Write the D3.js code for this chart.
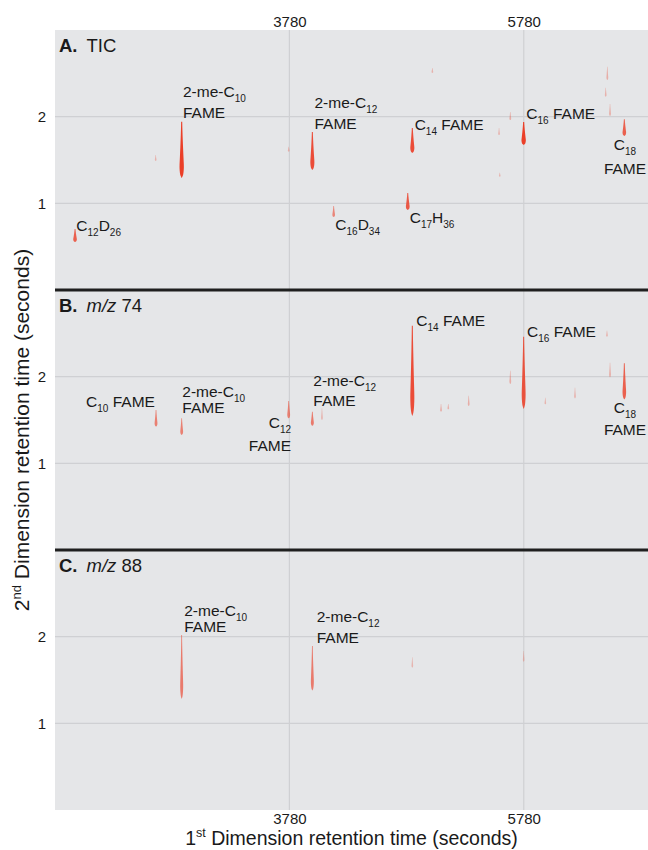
<!DOCTYPE html>
<html><head><meta charset="utf-8">
<script src="https://cdn.jsdelivr.net/npm/d3@7"></script>
<style>
body{margin:0;background:#fff}
text{font-family:"Liberation Sans",Arial,Helvetica,sans-serif;fill:#1a1a1a;white-space:pre}
</style>
</head><body>
<svg id="chart" width="648" height="850"></svg>
<script>
// ---------- data ----------
const xDomain = [1780, 6840];          // 1st dimension retention time (s)
const yDomain = [0, 3];                // 2nd dimension retention time (s)
const xTicks = [3780, 5780];
const yTicks = [1, 2];
const panelLetters = ["A.", "B.", "C."];
const panelChannels = ["TIC", "m/z 74", "m/z 88"];

// peaks: [rt1, rt2 top, rt2 bottom, relative intensity]
const peaksTIC = [
  [1951, 0.704, 0.554, 0.75],
  [2639, 1.558, 1.488, 0.12],
  [2861, 1.942, 1.292, 1.0],
  [3774, 1.653, 1.596, 0.12],
  [3976, 1.823, 1.385, 0.9],
  [4158, 0.969, 0.842, 0.45],
  [5000, 2.561, 2.504, 0.12],
  [4829, 1.869, 1.581, 0.9],
  [4790, 1.119, 0.923, 0.8],
  [5569, 1.869, 1.788, 0.12],
  [5575, 1.353, 1.307, 0.1],
  [5665, 2.054, 1.961, 0.15],
  [5779, 1.938, 1.673, 1.0],
  [6493, 2.576, 2.423, 0.15],
  [6479, 2.334, 2.230, 0.12],
  [6516, 2.146, 2.008, 0.15],
  [6638, 1.969, 1.777, 0.75]
];
const peaksMZ74 = [
  [2642, 1.615, 1.423, 0.5],
  [2861, 1.519, 1.327, 0.5],
  [3774, 1.719, 1.519, 0.5],
  [3976, 1.596, 1.434, 0.55],
  [4058, 1.635, 1.500, 0.12],
  [4829, 2.588, 1.546, 0.9],
  [5074, 1.685, 1.596, 0.15],
  [5136, 1.685, 1.623, 0.12],
  [5310, 1.781, 1.662, 0.15],
  [5665, 2.069, 1.915, 0.15],
  [5779, 2.461, 1.627, 0.85],
  [5964, 1.757, 1.681, 0.1],
  [6217, 1.873, 1.750, 0.12],
  [6490, 2.531, 2.461, 0.12],
  [6516, 2.161, 1.992, 0.15],
  [6638, 2.154, 1.738, 0.75]
];
const peaksMZ88 = [
  [2861, 2.019, 1.281, 0.55],
  [3976, 1.892, 1.377, 0.55],
  [4829, 1.762, 1.642, 0.1],
  [5779, 1.835, 1.711, 0.08]
];

// labels: [text lines, rt1, rt2 of each line baseline, anchor]
const labelsTIC = [
  [["C_{12}D_{26}"], 1962, [0.681], "start"],
  [["2-me-C_{10}", "FAME"], 2872, [2.227, 1.988], "start"],
  [["2-me-C_{12}", "FAME"], 3994, [2.096, 1.854], "start"],
  [["C_{14} FAME"], 4849, [1.846], "start"],
  [["C_{16}D_{34}"], 4172, [0.692], "start"],
  [["C_{17}H_{36}"], 4807, [0.777], "start"],
  [["C_{16} FAME"], 5802, [1.969], "start"],
  [["C_{18}", "FAME"], 6644, [1.615, 1.338], "middle"]
];
const labelsMZ74 = [
  [["C_{10} FAME"], 2045, [1.653], "start"],
  [["2-me-C_{10}", "FAME"], 2866, [1.769, 1.577], "start"],
  [["C_{12}", "FAME"], 3794, [1.411, 1.142], "end"],
  [["2-me-C_{12}", "FAME"], 3984, [1.892, 1.661], "start"],
  [["C_{14} FAME"], 4863, [2.585], "start"],
  [["C_{16} FAME"], 5808, [2.454], "start"],
  [["C_{18}", "FAME"], 6644, [1.584, 1.327], "middle"]
];
const labelsMZ88 = [
  [["2-me-C_{10}", "FAME"], 2883, [2.238, 2.057], "start"],
  [["2-me-C_{12}", "FAME"], 4013, [2.173, 1.930], "start"]
];

const xTitle = "1^{st} Dimension retention time (seconds)";
const yTitle = "2^{nd} Dimension retention time (seconds)";

// ---------- drawing ----------
const panels = [
  {peaks: peaksTIC, labels: labelsTIC},
  {peaks: peaksMZ74, labels: labelsMZ74},
  {peaks: peaksMZ88, labels: labelsMZ88}
];
const PL = 55, PR = 648, PT = 30, PH = 260;
const svg = d3.select("#chart");
const x = d3.scaleLinear().domain(xDomain).range([PL, PR]);
const wScale = d3.scaleLinear().domain([0, 1]).range([1.3, 4.4]);
const oScale = d3.scaleLinear().domain([0, 1]).range([0.22, 1]);
const peakColor = "#eb3f28";
const gridColor = "#cfd0d3";
const FONT = '"Liberation Sans",Arial,sans-serif';

function richText(sel, str, subSize, supSize) {
  const parts = str.split(/([_^]\{[^}]*\})/).filter(s => s.length);
  let shift = 0;
  parts.forEach(s => {
    if (s[0] === "_" && s[1] === "{") {
      sel.append("tspan").attr("font-size", subSize).attr("dy", 5 - shift).text(s.slice(2, -1));
      shift = 5;
    } else if (s[0] === "^" && s[1] === "{") {
      sel.append("tspan").attr("font-size", supSize).attr("dy", -8 - shift).text(s.slice(2, -1));
      shift = -8;
    } else {
      const t = sel.append("tspan").text(s);
      if (shift !== 0) { t.attr("dy", -shift); shift = 0; }
    }
  });
}

function prof(t) {
  const p = 0.78;
  return t <= p ? 0.25 + 0.75 * Math.pow(t / p, 1.3)
                : Math.sqrt(Math.max(0, 1 - Math.pow((t - p) / (1 - p), 2)));
}
const ts = d3.range(0, 1.0001, 0.04);

panels.forEach((p, k) => {
  const y0 = PT + k * PH;
  const y = d3.scaleLinear().domain(yDomain).range([y0 + PH, y0]);
  const g = svg.append("g");
  g.append("rect").attr("x", PL).attr("y", y0).attr("width", PR - PL)
    .attr("height", PH).attr("fill", "#e5e6e8");
  g.selectAll("line.hg").data(yTicks).join("line").attr("class", "hg")
    .attr("x1", PL).attr("x2", PR)
    .attr("y1", d => y(d)).attr("y2", d => y(d))
    .attr("stroke", gridColor).attr("stroke-width", 1.2);

  const ya = d3.axisLeft(y).tickValues(yTicks).tickSize(0).tickPadding(9).tickFormat(d3.format("d"));
  const yg = g.append("g").attr("transform", `translate(${PL},0)`).call(ya);
  yg.select(".domain").remove();
  yg.selectAll("text").attr("font-size", 15).attr("fill", "#1a1a1a").style("font-family", FONT);

  p.y = y;
});

// vertical gridlines through all panels
svg.selectAll("line.vg").data(xTicks).join("line").attr("class", "vg")
  .attr("x1", d => x(d)).attr("x2", d => x(d))
  .attr("y1", PT).attr("y2", PT + 3 * PH)
  .attr("stroke", gridColor).attr("stroke-width", 1.2);

panels.forEach((p, k) => {
  const y = p.y;
  const g = svg.append("g");
  g.selectAll("path.pk").data(p.peaks).join("path").attr("class", "pk")
    .attr("d", d => {
      const hw = wScale(d[3]) / 2, cx = x(d[0]);
      return d3.area().curve(d3.curveBasis)
        .y(t => y(d[1] - t * (d[1] - d[2])))
        .x0(t => cx - hw * prof(t))
        .x1(t => cx + hw * prof(t))(ts);
    })
    .attr("fill", peakColor)
    .attr("fill-opacity", d => oScale(d[3]));

  p.labels.forEach(l => {
    l[0].forEach((line, i) => {
      const t = g.append("text").attr("x", x(l[1])).attr("y", y(l[2][i]))
        .attr("text-anchor", l[3]).attr("font-size", 15.5);
      richText(t, line, 10, 11);
    });
  });

  const y0 = PT + k * PH;
  g.append("text").attr("x", 59).attr("y", y0 + 22).attr("font-size", 18.5)
    .attr("font-weight", "bold").text(panelLetters[k]);
  const tt = g.append("text").attr("x", 86.5).attr("y", y0 + 22).attr("font-size", 18.5);
  panelChannels[k].split(/(m\/z)/).filter(s => s.length).forEach(s => {
    const sp = tt.append("tspan").text(s);
    if (s === "m/z") sp.attr("font-style", "italic");
  });
});

// separators
svg.selectAll("line.sep").data([1, 2]).join("line").attr("class", "sep")
  .attr("x1", PL).attr("x2", PR)
  .attr("y1", d => PT + d * PH).attr("y2", d => PT + d * PH)
  .attr("stroke", "#1f1f1f").attr("stroke-width", 3);

// top and bottom axes
const xt = svg.append("g").attr("transform", `translate(0,${PT})`)
  .call(d3.axisTop(x).tickValues(xTicks).tickSize(0).tickPadding(3.5).tickFormat(d3.format("d")));
const xb = svg.append("g").attr("transform", `translate(0,${PT + 3 * PH})`)
  .call(d3.axisBottom(x).tickValues(xTicks).tickSize(0).tickPadding(3.5).tickFormat(d3.format("d")));
[xt, xb].forEach(a => {
  a.select(".domain").remove();
  a.selectAll("text").attr("font-size", 15).attr("fill", "#1a1a1a").style("font-family", FONT);
});

// axis titles
const xl = svg.append("text").attr("x", (PL + PR) / 2).attr("y", 845)
  .attr("text-anchor", "middle").attr("font-size", 19.5);
richText(xl, xTitle, 12.5, 12.5);
const yl = svg.append("text").attr("transform", `translate(29,430) rotate(-90)`)
  .attr("text-anchor", "middle").attr("font-size", 21);
richText(yl, yTitle, 13, 13);
</script>
</body></html>
